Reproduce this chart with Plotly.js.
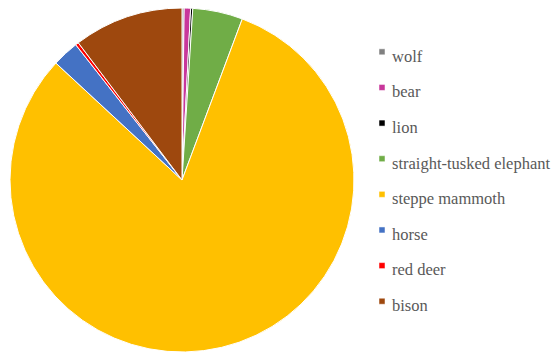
<!DOCTYPE html>
<html><head><meta charset="utf-8">
<script src="https://cdn.plot.ly/plotly-3.0.1.min.js"></script>
<style>
html,body{margin:0;padding:0;background:#fff;}
#chart{width:554px;height:353px;}
.legendpie{transform:translate(30px,0px) scale(0.5);}
</style>
</head><body>
<div id="chart"></div>
<script>
const labels = ["wolf","bear","lion","straight-tusked elephant","steppe mammoth","horse","red deer","bison"];
const values = [0.2,0.6,0.2,4.7,81.2,2.5,0.3,10.3];
const colors = ["#808080","#C8379B","#000000","#70AD47","#FFC000","#4472C4","#FF0000","#9E480E"];

const legendText = labels.map(l => '<span style="font-size:16.5px">' + l + '</span>');

Plotly.newPlot('chart', [{
  type: 'pie',
  labels: legendText,
  values: values,
  sort: false,
  direction: 'clockwise',
  rotation: 0,
  textinfo: 'none',
  hoverinfo: 'label+percent',
  marker: {colors: colors, line: {color: '#ffffff', width: 1}},
  domain: {x: [10/554, 354/554], y: [1/353, 345/353]}
}], {
  width: 554, height: 353,
  margin: {l: 0, r: 0, t: 0, b: 0, autoexpand: false},
  paper_bgcolor: '#ffffff',
  showlegend: true,
  legend: {
    x: 352/554, xanchor: 'left',
    y: 1 - 29/353, yanchor: 'top',
    font: {family: 'Liberation Serif', size: 25.1, color: '#595959'},
    bgcolor: 'rgba(0,0,0,0)'
  }
}, {displayModeBar: false, staticPlot: true});
</script>
</body></html>
